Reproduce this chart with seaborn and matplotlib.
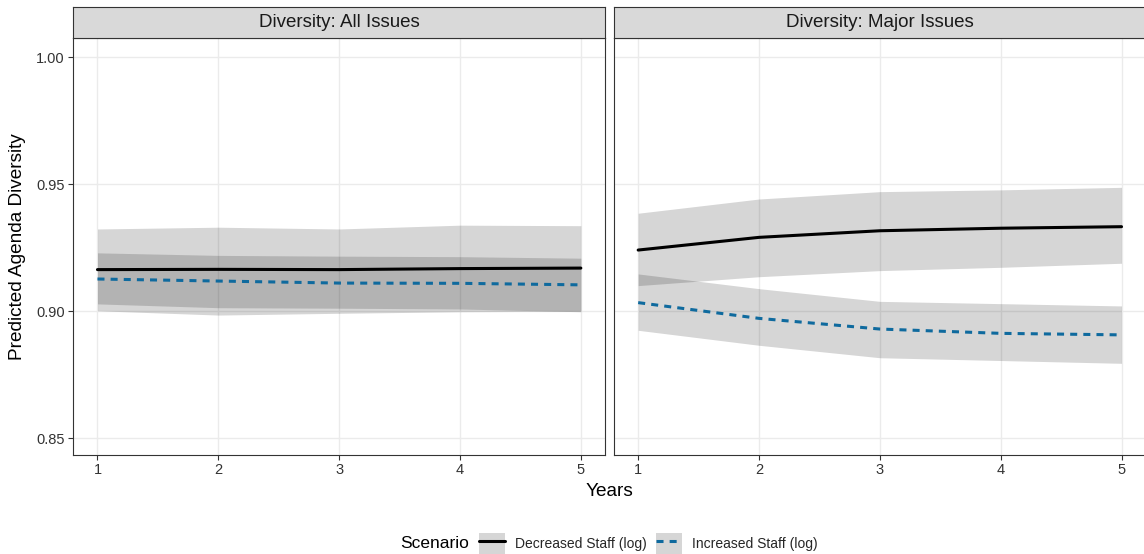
import matplotlib
matplotlib.use("Agg")
import matplotlib.pyplot as plt
from matplotlib.patches import Patch
from matplotlib.lines import Line2D
import numpy as np
import pandas as pd
import seaborn as sns

# ---------------- data ----------------
years = [1, 2, 3, 4, 5]
panels = ["Diversity: All Issues", "Diversity: Major Issues"]
scenarios = ["Decreased Staff (log)", "Increased Staff (log)"]

# All Issues
all_dec_pred = [0.9164, 0.9165, 0.9164, 0.9168, 0.9170]
all_dec_lo = [0.9002, 0.8985, 0.8992, 0.8998, 0.9000]
all_dec_hi = [0.9324, 0.9331, 0.9324, 0.9339, 0.9337]
all_inc_pred = [0.9127, 0.9119, 0.9111, 0.9110, 0.9104]
all_inc_lo = [0.9029, 0.9014, 0.9012, 0.9009, 0.8998]
all_inc_hi = [0.9230, 0.9220, 0.9217, 0.9215, 0.9209]

# Major Issues
maj_dec_pred = [0.9241, 0.9291, 0.9317, 0.9327, 0.9333]
maj_dec_lo = [0.9101, 0.9136, 0.9160, 0.9173, 0.9189]
maj_dec_hi = [0.9386, 0.9442, 0.9471, 0.9478, 0.9488]
maj_inc_pred = [0.9034, 0.8972, 0.8930, 0.8913, 0.8907]
maj_inc_lo = [0.8925, 0.8866, 0.8817, 0.8806, 0.8795]
maj_inc_hi = [0.9147, 0.9089, 0.9039, 0.9030, 0.9021]

y_ticks = [0.85, 0.90, 0.95, 1.00]
y_ticklabels = ["0.85", "0.90", "0.95", "1.00"]

rows = []
for panel, series in [
    (panels[0], [(scenarios[0], all_dec_pred, all_dec_lo, all_dec_hi),
                 (scenarios[1], all_inc_pred, all_inc_lo, all_inc_hi)]),
    (panels[1], [(scenarios[0], maj_dec_pred, maj_dec_lo, maj_dec_hi),
                 (scenarios[1], maj_inc_pred, maj_inc_lo, maj_inc_hi)]),
]:
    for sc, pr, lo, hi in series:
        for y, p, l, h in zip(years, pr, lo, hi):
            rows.append(dict(panel=panel, year=y, scenario=sc, pred=p, lo=l, hi=h))
df = pd.DataFrame(rows)

# ---------------- style ----------------
sns.set_theme(style="white")
plt.rcParams["font.family"] = ["Liberation Sans", "DejaVu Sans"]

W, H = 1144, 554
fig = plt.figure(figsize=(W / 100, H / 100), dpi=100)

palette = {scenarios[0]: "#000000", scenarios[1]: "#0F6A9E"}
dashes = {scenarios[0]: "", scenarios[1]: (2.3, 2.0)}
band_color = "black"
band_alpha = 0.16

ax_left = [73.3, 614.0]
ax_w = 531.7
ax_top, ax_bot = 38.0, 455.0
strip_top = 6.7

def fx(px):
    return px / W

def fy(py):
    return 1 - py / H

axes = []
for i, panel in enumerate(panels):
    ax = fig.add_axes([fx(ax_left[i]), fy(ax_bot), ax_w / W, (ax_bot - ax_top) / H])
    axes.append(ax)
    sub = df[df.panel == panel]
    ax.set_axisbelow(True)
    ax.grid(True, color="#EBEBEB", linewidth=1.0)
    for sc in scenarios:
        s = sub[sub.scenario == sc]
        ax.fill_between(s.year, s.lo, s.hi, color=band_color, alpha=band_alpha,
                        linewidth=0, zorder=2)
    sns.lineplot(data=sub, x="year", y="pred", hue="scenario", style="scenario",
                 palette=palette, dashes=dashes, linewidth=2.2, ax=ax,
                 legend=False, zorder=3)
    ax.set_xlim(0.8, 5.2)
    ax.set_ylim(0.8434, 1.0076)
    ax.set_xticks(years)
    ax.set_xticklabels([str(y) for y in years])
    ax.set_yticks(y_ticks)
    ax.set_xlabel("")
    ax.set_ylabel("")
    for sp in ax.spines.values():
        sp.set_color("#333333")
        sp.set_linewidth(0.8)
    ax.tick_params(axis="x", length=3.5, width=0.8, color="#333333",
                   labelsize=10.5, labelcolor="#333333", pad=2.5, bottom=True)
    if i == 0:
        ax.set_yticklabels(y_ticklabels)
        ax.tick_params(axis="y", length=3.5, width=0.8, color="#333333",
                       labelsize=10.5, labelcolor="#333333", pad=2.5, left=True)
    else:
        ax.tick_params(axis="y", left=False, labelleft=False)

    # facet strip
    sax = fig.add_axes([fx(ax_left[i]), fy(ax_top), ax_w / W, (ax_top - strip_top) / H])
    sax.set_facecolor("#D9D9D9")
    sax.set_xticks([])
    sax.set_yticks([])
    for sp in sax.spines.values():
        sp.set_color("#333333")
        sp.set_linewidth(0.8)
    sax.text(0.5, 0.5, panel, ha="center", va="center", fontsize=13.5,
             color="#1A1A1A", transform=sax.transAxes)

# axis titles
fig.text(fx(18), fy((ax_top + ax_bot) / 2), "Predicted Agenda Diversity",
         rotation=90, ha="center", va="center", fontsize=13.7, color="black")
fig.text(fx(609.5), fy(491.7), "Years", ha="center", va="center",
         fontsize=13.7, color="black")

# legend
fig.text(fx(400), fy(544), "Scenario", ha="left", va="center",
         fontsize=12.5, color="black")
handles = []
for sc in scenarios:
    patch = Patch(facecolor="#D6D6D6", edgecolor="none")
    ln = Line2D([], [], color=palette[sc], linewidth=2.2,
                linestyle="-" if sc == scenarios[0] else (0, (2.3, 2.0)))
    handles.append((patch, ln))
fs = 10.0
fig.legend(handles, scenarios, loc="center left", bbox_to_anchor=(fx(479), fy(544)),
           ncol=2, frameon=False, fontsize=fs, borderpad=0, borderaxespad=0,
           handlelength=1.87, handleheight=2.1, handletextpad=0.69,
           columnspacing=0.72)

fig.savefig("out.png", dpi=100)
